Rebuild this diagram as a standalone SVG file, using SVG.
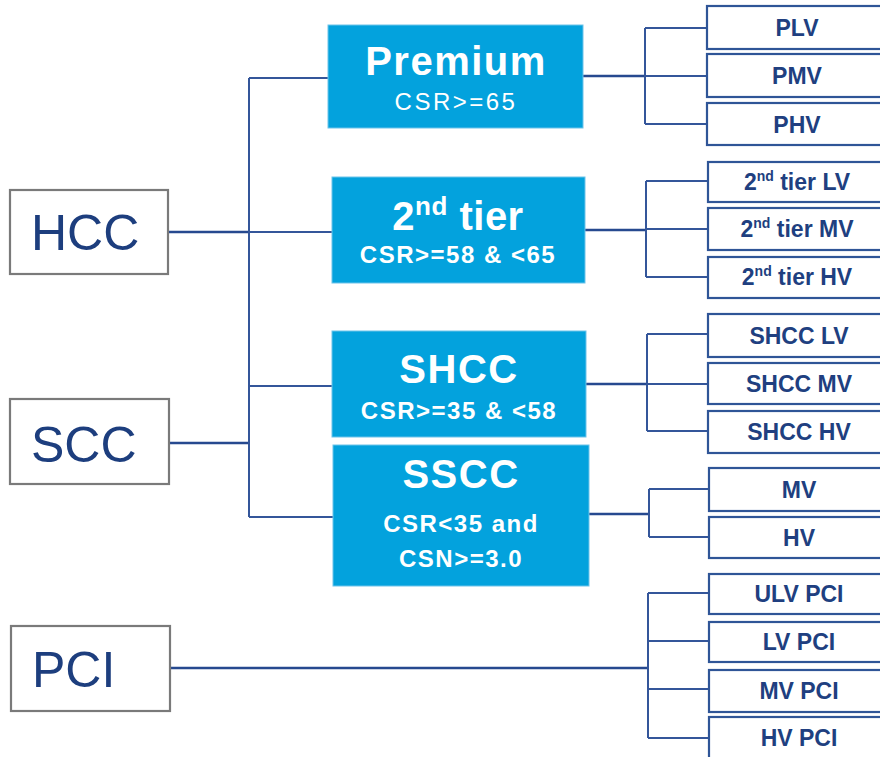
<svg xmlns="http://www.w3.org/2000/svg" width="880" height="757" viewBox="0 0 880 757">
<style>
.lbox{fill:#fff;stroke:#7a7a7a;stroke-width:2.2}
.ltxt{font-family:"Liberation Sans",Arial,sans-serif;font-size:50px;fill:#1d3e7e}
.bbox{fill:#03a2dd;stroke:#6cc3ea;stroke-width:1}
.btitle{font-family:"Liberation Sans",Arial,sans-serif;font-weight:bold;font-size:40px;fill:#fff;text-anchor:middle;letter-spacing:1.5px}
.bsub{font-family:"Liberation Sans",Arial,sans-serif;font-weight:bold;font-size:24px;fill:#fff;text-anchor:middle;letter-spacing:1.5px}
.rbox{fill:#fff;stroke:#2f5597;stroke-width:2.2}
.rtxt{font-family:"Liberation Sans",Arial,sans-serif;font-weight:bold;font-size:23px;fill:#203f80;text-anchor:middle}
.con{fill:none;stroke:#34569a;stroke-width:2}
.conm{fill:none;stroke:#26498f;stroke-width:2.6}
</style>
<g id="connectors">
<path class="conm" d="M168 232H249M169 443H249M170 668H648M583 76H645M585 230H646M586 384H647M589 514H649"/>
<path class="con" d="M249 78V517M249 78H328M249 232H332M249 386H332M249 517H333"/>
<path class="con" d="M645 28V124M645 28H707M645 76H707M645 124H707"/>
<path class="con" d="M646 181V277M646 181H708M646 229H708M646 277H708"/>
<path class="con" d="M647 334V431M647 334H708M647 384H708M647 431H708"/>
<path class="con" d="M649 489V537M649 489H708M649 537H708"/>
<path class="con" d="M648 593V738M648 593H709M648 641H709M648 689H709M648 738H709"/>
</g>
<g id="HCC"><rect class="lbox" x="10" y="190" width="158" height="84"/><text class="ltxt" x="31" y="250">HCC</text></g>
<g id="SCC"><rect class="lbox" x="10" y="399" width="159" height="85"/><text class="ltxt" x="31" y="462">SCC</text></g>
<g id="PCI"><rect class="lbox" x="11" y="626" width="159" height="85"/><text class="ltxt" x="32" y="687">PCI</text></g>
<g id="Premium"><rect class="bbox" x="328" y="25" width="255" height="103"/><text class="btitle" x="456" y="75">Premium</text><text class="bsub" x="456" y="110" style="font-weight:normal;letter-spacing:2.5px">CSR&gt;=65</text></g>
<g id="tier2"><rect class="bbox" x="332" y="177" width="253" height="106"/><text class="btitle" x="458" y="230" style="letter-spacing:0.5px">2<tspan font-size="26" dy="-15">nd</tspan><tspan dy="15"> tier</tspan></text><text class="bsub" x="458" y="263">CSR&gt;=58 &amp; &lt;65</text></g>
<g id="SHCC"><rect class="bbox" x="332" y="331" width="254" height="106"/><text class="btitle" x="459" y="383">SHCC</text><text class="bsub" x="459" y="419">CSR&gt;=35 &amp; &lt;58</text></g>
<g id="SSCC"><rect class="bbox" x="333" y="445" width="256" height="141"/><text class="btitle" x="461" y="488">SSCC</text><text class="bsub" x="461" y="532">CSR&lt;35 and</text><text class="bsub" x="461" y="567">CSN&gt;=3.0</text></g>
<g id="PLV"><rect class="rbox" x="707" y="6" width="200" height="43"/><text class="rtxt" x="797" y="36">PLV</text></g>
<g id="PMV"><rect class="rbox" x="707" y="54" width="200" height="43"/><text class="rtxt" x="797" y="84">PMV</text></g>
<g id="PHV"><rect class="rbox" x="707" y="103" width="200" height="42"/><text class="rtxt" x="797" y="133">PHV</text></g>
<g id="T2LV"><rect class="rbox" x="708" y="162" width="200" height="40"/><text class="rtxt" x="797" y="190">2<tspan font-size="14" dy="-9">nd</tspan><tspan dy="9"> tier LV</tspan></text></g>
<g id="T2MV"><rect class="rbox" x="708" y="208" width="200" height="42"/><text class="rtxt" x="797" y="237">2<tspan font-size="14" dy="-9">nd</tspan><tspan dy="9"> tier MV</tspan></text></g>
<g id="T2HV"><rect class="rbox" x="708" y="257" width="200" height="41"/><text class="rtxt" x="797" y="285">2<tspan font-size="14" dy="-9">nd</tspan><tspan dy="9"> tier HV</tspan></text></g>
<g id="SHCCLV"><rect class="rbox" x="708" y="314" width="200" height="43"/><text class="rtxt" x="799" y="344">SHCC LV</text></g>
<g id="SHCCMV"><rect class="rbox" x="708" y="363" width="200" height="41"/><text class="rtxt" x="799" y="392">SHCC MV</text></g>
<g id="SHCCHV"><rect class="rbox" x="708" y="411" width="200" height="42"/><text class="rtxt" x="799" y="440">SHCC HV</text></g>
<g id="MV"><rect class="rbox" x="709" y="468" width="200" height="43"/><text class="rtxt" x="799" y="498">MV</text></g>
<g id="HV"><rect class="rbox" x="709" y="517" width="200" height="41"/><text class="rtxt" x="799" y="546">HV</text></g>
<g id="ULVPCI"><rect class="rbox" x="709" y="574" width="200" height="40"/><text class="rtxt" x="799" y="602">ULV PCI</text></g>
<g id="LVPCI"><rect class="rbox" x="709" y="622" width="200" height="40"/><text class="rtxt" x="799" y="650">LV PCI</text></g>
<g id="MVPCI"><rect class="rbox" x="709" y="670" width="200" height="42"/><text class="rtxt" x="799" y="699">MV PCI</text></g>
<g id="HVPCI"><rect class="rbox" x="709" y="717" width="200" height="45"/><text class="rtxt" x="799" y="746">HV PCI</text></g>
</svg>
